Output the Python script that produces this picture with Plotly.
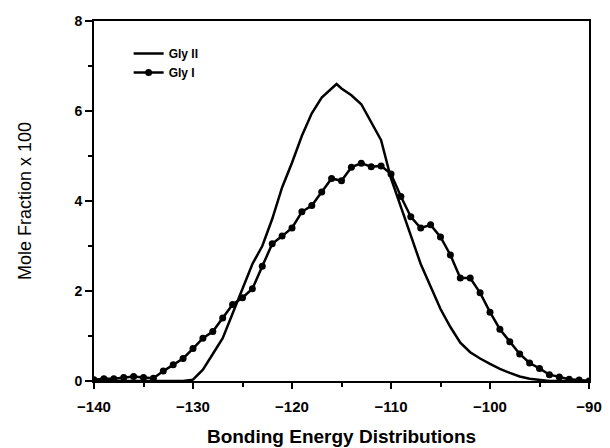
import plotly.graph_objects as go

# Gly II (solid line)
gly2_x = [-140, -135, -131, -130, -129, -128, -127, -126, -125, -124, -123, -122, -121, -120,
          -119, -118, -117, -116, -115.5, -115, -114, -113, -112, -111, -110, -109, -108,
          -107, -106, -105, -104, -103, -102, -101, -100, -99, -98, -97, -96, -95, -94, -90]
gly2_y = [0.0, 0.0, 0.0, 0.03, 0.25, 0.6, 0.95, 1.5, 2.05, 2.6, 3.0, 3.6, 4.3, 4.85,
          5.45, 5.95, 6.3, 6.5, 6.6, 6.5, 6.35, 6.15, 5.75, 5.35, 4.5, 3.85, 3.2,
          2.6, 2.1, 1.6, 1.2, 0.85, 0.64, 0.5, 0.38, 0.27, 0.18, 0.1, 0.05, 0.02, 0.0, 0.0]

# Gly I (line with markers)
gly1_x = list(range(-140, -89))
gly1_y = [0.03, 0.05, 0.05, 0.08, 0.1, 0.08, 0.06, 0.22, 0.36, 0.5,
          0.72, 0.95, 1.1, 1.4, 1.7, 1.85, 2.05, 2.55, 3.05, 3.22,
          3.4, 3.76, 3.9, 4.2, 4.5, 4.45, 4.75, 4.84, 4.76, 4.78,
          4.6, 4.1, 3.65, 3.4, 3.47, 3.2, 2.8, 2.29, 2.29, 1.96,
          1.53, 1.15, 0.87, 0.6, 0.4, 0.28, 0.14, 0.09, 0.04, 0.02, 0.0]

x_ticks = [-140, -130, -120, -110, -100, -90]
y_ticks = [0, 2, 4, 6, 8]

FONT = "Liberation Sans, Arial, sans-serif"

fig = go.Figure()
fig.add_trace(go.Scatter(x=gly2_x, y=gly2_y, mode="lines", name="Gly II",
                         line=dict(color="black", width=2.5)))
fig.add_trace(go.Scatter(x=gly1_x, y=gly1_y, mode="lines+markers", name="Gly I",
                         line=dict(color="black", width=2.5),
                         marker=dict(color="black", size=7)))

fig.update_layout(
    width=610, height=448,
    margin=dict(l=94, r=21, t=21, b=67),
    plot_bgcolor="white", paper_bgcolor="white",
    font=dict(family=FONT, color="black"),
    showlegend=True,
    legend=dict(x=0.07, y=0.95, xanchor="left", yanchor="top",
                bgcolor="rgba(0,0,0,0)", tracegroupgap=0,
                font=dict(size=12, weight="bold")),
    xaxis=dict(range=[-140, -90], tickvals=x_ticks,
               ticktext=[f"−{abs(v)}" for v in x_ticks],
               ticks="outside", ticklen=6, tickwidth=2, tickcolor="black",
               ticklabelstandoff=5, automargin=False,
               minor=dict(dtick=5, ticks="outside", ticklen=4, tickwidth=2, tickcolor="black"),
               showline=True, linewidth=2, linecolor="black", mirror=True,
               showgrid=False, zeroline=False,
               tickfont=dict(size=15, weight="bold"),
               title=dict(text="Bonding Energy Distributions",
                          font=dict(size=19, weight="bold"), standoff=16)),
    yaxis=dict(range=[0, 8], tickvals=y_ticks,
               ticks="outside", ticklen=7, tickwidth=2, tickcolor="black",
               automargin=False,
               minor=dict(dtick=1, ticks="outside", ticklen=4, tickwidth=2, tickcolor="black"),
               showline=True, linewidth=2, linecolor="black", mirror=True,
               showgrid=False, zeroline=False,
               tickfont=dict(size=14, weight="bold"),
               title=dict(text="Mole Fraction x 100", font=dict(size=18), standoff=38)),
)

fig.write_html("out.html")
